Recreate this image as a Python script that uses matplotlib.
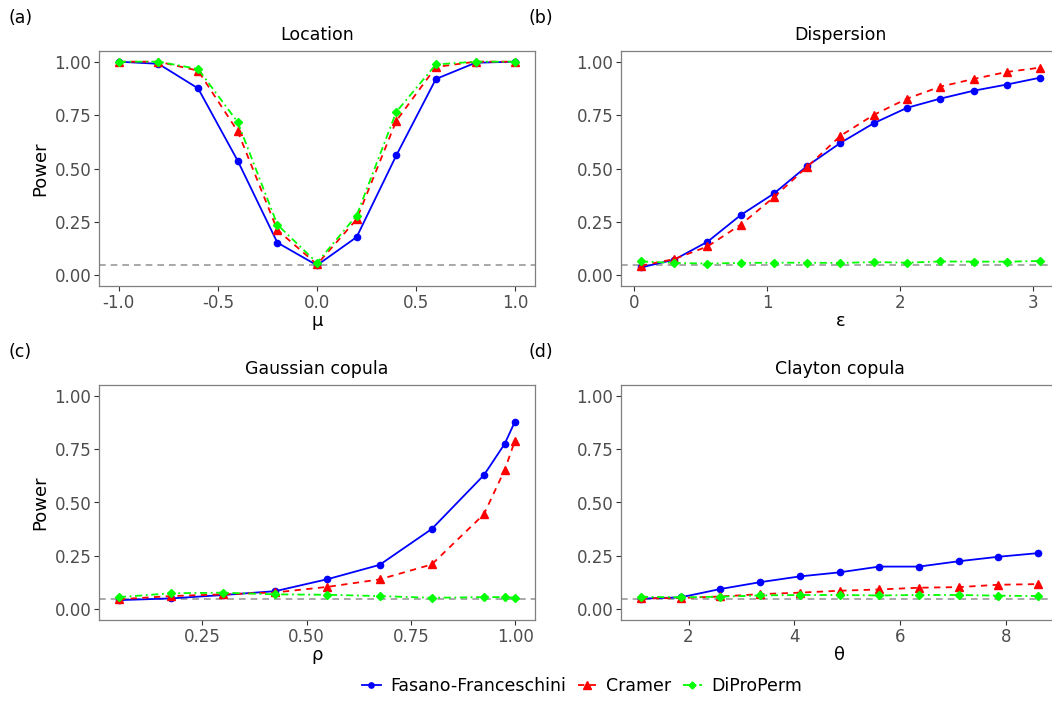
import numpy as np
import matplotlib.pyplot as plt
from matplotlib.lines import Line2D

# panel (a) location
mu = [-1.0, -0.8, -0.6, -0.4, -0.2, 0.0, 0.2, 0.4, 0.6, 0.8, 1.0]
loc_ff = [1.0, 0.99, 0.875, 0.536, 0.153, 0.047, 0.179, 0.561, 0.919, 0.995, 1.0]
loc_cr = [1.0, 1.0, 0.958, 0.674, 0.212, 0.051, 0.262, 0.723, 0.975, 1.0, 1.0]
loc_dp = [1.0, 1.0, 0.966, 0.717, 0.237, 0.059, 0.28, 0.765, 0.987, 1.0, 1.0]

# panel (b) dispersion
eps = [0.05, 0.3, 0.55, 0.8, 1.05, 1.3, 1.55, 1.8, 2.05, 2.3, 2.55, 2.8, 3.05]
dis_ff = [0.037, 0.073, 0.157, 0.282, 0.383, 0.512, 0.62, 0.712, 0.784, 0.827, 0.864, 0.893, 0.925]
dis_cr = [0.045, 0.076, 0.135, 0.237, 0.366, 0.508, 0.653, 0.751, 0.827, 0.883, 0.919, 0.952, 0.972]
dis_dp = [0.065, 0.058, 0.055, 0.058, 0.059, 0.059, 0.058, 0.062, 0.059, 0.065, 0.064, 0.064, 0.067]

# panel (c) gaussian copula
rho = [0.05, 0.175, 0.3, 0.425, 0.55, 0.675, 0.8, 0.925, 0.975, 0.999]
gau_ff = [0.043, 0.051, 0.067, 0.085, 0.141, 0.208, 0.376, 0.628, 0.775, 0.877]
gau_cr = [0.047, 0.062, 0.07, 0.079, 0.105, 0.14, 0.21, 0.445, 0.653, 0.787]
gau_dp = [0.057, 0.075, 0.078, 0.07, 0.068, 0.062, 0.054, 0.057, 0.057, 0.054]

# panel (d) clayton copula
theta = [1.1, 1.85, 2.6, 3.35, 4.1, 4.85, 5.6, 6.35, 7.1, 7.85, 8.6]
cla_ff = [0.05, 0.056, 0.095, 0.127, 0.154, 0.173, 0.2, 0.2, 0.225, 0.246, 0.263]
cla_cr = [0.051, 0.053, 0.06, 0.071, 0.078, 0.087, 0.093, 0.101, 0.104, 0.115, 0.118]
cla_dp = [0.059, 0.056, 0.059, 0.065, 0.067, 0.067, 0.065, 0.067, 0.067, 0.064, 0.062]

methods = ['Fasano-Franceschini', 'Cramer', 'DiProPerm']
alpha = 0.05

W, H = 1052, 708
fig = plt.figure(figsize=(W / 100, H / 100), dpi=100)

def box(left, right, top, bottom):
    return [left / W, (H - bottom) / H, (right - left) / W, (bottom - top) / H]

styles = [
    dict(color='#0000FF', ls='-', marker='o', ms=4.5),
    dict(color='#FF0000', ls=(0, (3.5, 3)), marker='^', ms=6),
    dict(color='#00FF00', ls=(0, (4, 2, 1, 2)), marker='D', ms=4.2),
]

panels = [
    ('(a)', 'Location', 'μ', mu, [loc_ff, loc_cr, loc_dp], box(99, 535, 51, 286), (-1.1, 1.1),
     [-1.0, -0.5, 0.0, 0.5, 1.0], ['-1.0', '-0.5', '0.0', '0.5', '1.0'], True),
    ('(b)', 'Dispersion', 'ε', eps, [dis_ff, dis_cr, dis_dp], box(621, 1060, 51, 286), (-0.1, 3.2),
     [0, 1, 2, 3], ['0', '1', '2', '3'], False),
    ('(c)', 'Gaussian copula', 'ρ', rho, [gau_ff, gau_cr, gau_dp], box(99, 535, 385, 620), (0.0025, 1.0475),
     [0.25, 0.5, 0.75, 1.0], ['0.25', '0.50', '0.75', '1.00'], True),
    ('(d)', 'Clayton copula', 'θ', theta, [cla_ff, cla_cr, cla_dp], box(621, 1058, 385, 620), (0.725, 8.975),
     [2, 4, 6, 8], ['2', '4', '6', '8'], False),
]

label_pos = {'(a)': (8, 18), '(b)': (528, 18), '(c)': (8, 352), '(d)': (528, 352)}

for tag, title, xlab, x, ys, rect, xlim, xt, xtl, left in panels:
    ax = fig.add_axes(rect)
    ax.axhline(alpha, color='#999999', ls=(0, (4, 3)), lw=1.2, zorder=1)
    for y, st in zip(ys, styles):
        ax.plot(x, y, color=st['color'], ls=st['ls'], lw=1.3, marker=st['marker'],
                ms=st['ms'], mec=st['color'], mfc=st['color'], zorder=3)
    ax.set_xlim(*xlim)
    ax.set_ylim(-0.05, 1.05)
    ax.set_xticks(xt)
    ax.set_xticklabels(xtl)
    ax.set_yticks([0, 0.25, 0.5, 0.75, 1.0])
    ax.set_yticklabels(['0.00', '0.25', '0.50', '0.75', '1.00'])
    ax.tick_params(colors='#333333', labelcolor='#4D4D4D', labelsize=12, length=3.5, width=0.8, pad=2)
    for s in ax.spines.values():
        s.set_color('#7F7F7F')
        s.set_linewidth(0.9)
    ax.set_title(title, fontsize=12.5, pad=8)
    ax.set_xlabel(xlab, fontsize=13, labelpad=0)
    if left:
        ax.set_ylabel('Power', fontsize=13, labelpad=4)
    px, py = label_pos[tag]
    fig.text(px / W, 1 - py / H, tag, fontsize=12.5, va='center', ha='left')

handles = [Line2D([], [], color=st['color'], ls=st['ls'], lw=1.3, marker=st['marker'],
                  ms=st['ms'] * 0.85, mfc=st['color'], mec=st['color']) for st in styles]
fig.legend(handles, methods, loc='center', bbox_to_anchor=(582 / W, 1 - 686 / H), ncol=3,
           frameon=False, fontsize=12.5, handlelength=1.1, columnspacing=0.65, handletextpad=0.55)

fig.savefig('out.png', dpi=100)
